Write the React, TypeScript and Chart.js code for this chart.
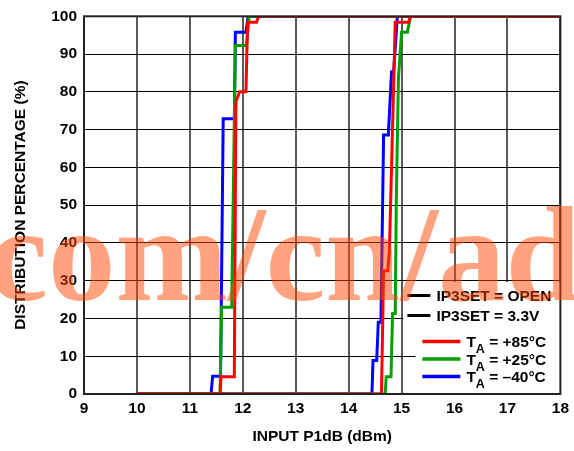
import React, { useEffect, useRef } from 'react';
import { Chart, registerables } from 'chart.js';

Chart.register(...registerables);

const xTickValues = [9, 10, 11, 12, 13, 14, 15, 16, 17, 18];
const yTickValues = [0, 10, 20, 30, 40, 50, 60, 70, 80, 90, 100];

// IP3SET = 3.3V (left cluster)
const red33X = [10, 11.57, 11.59, 11.84, 11.87, 11.94, 12.06, 12.09, 12.26, 12.3, 18];
const red33Y = [0, 0, 4.6, 4.6, 77.4, 80, 80, 98.4, 98.4, 100, 100];
const green33X = [10, 11.57, 11.6, 11.79, 11.86, 12.07, 12.12, 18];
const green33Y = [0, 0, 23, 23, 92.3, 92.3, 100, 100];
const blue33X = [10, 11.4, 11.43, 11.58, 11.63, 11.84, 11.86, 12.06, 12.1, 18];
const blue33Y = [0, 0, 4.7, 4.7, 72.9, 72.9, 95.8, 95.8, 100, 100];

// IP3SET = OPEN (right cluster)
const redOpenX = [10, 14.62, 14.66, 14.74, 14.77, 14.88, 15.13, 15.17, 18];
const redOpenY = [0, 0, 32.6, 32.6, 37.9, 98.4, 98.4, 100, 100];
const greenOpenX = [10, 14.69, 14.71, 14.8, 14.83, 14.88, 14.9, 14.94, 15.0, 15.11, 15.17, 18];
const greenOpenY = [0, 0, 4.6, 4.6, 21.3, 21.3, 51, 83.4, 95.8, 95.8, 100, 100];
const blueOpenX = [10, 14.44, 14.46, 14.53, 14.56, 14.61, 14.66, 14.75, 14.81, 14.85, 14.92, 18];
const blueOpenY = [0, 0, 8.9, 8.9, 19, 19, 68.6, 68.6, 85.3, 85.3, 100, 100];

const legendIP3 = ['IP3SET = OPEN', 'IP3SET = 3.3V'];
const legendTemps = ['+85°C', '+25°C', '–40°C'];
const watermarkText = 'com/cn/ad';

const RED = '#FF0000';
const GREEN = '#00A000';
const BLUE = '#0000FF';
const FONT = '"Liberation Sans", Arial, sans-serif';

const pts = (xs: number[], ys: number[]) => xs.map((x, i) => ({ x, y: ys[i] }));

const decor = {
  id: 'decor',
  afterDraw(chart: any) {
    const { ctx, chartArea: a } = chart;
    ctx.save();
    // legend background
    ctx.fillStyle = '#ffffff';
    ctx.fillRect(a.right - 157, a.bottom - 112, 157, 45);
    ctx.fillRect(a.right - 145, a.bottom - 67, 145, 67);

    // IP3SET entries
    ctx.lineCap = 'butt';
    ctx.textBaseline = 'alphabetic';
    ctx.textAlign = 'left';
    const ipY = [a.bottom - 98.5, a.bottom - 78.5];
    legendIP3.forEach((t, i) => {
      ctx.strokeStyle = '#000';
      ctx.lineWidth = 3;
      ctx.beginPath();
      ctx.moveTo(a.right - 153, ipY[i]);
      ctx.lineTo(a.right - 130, ipY[i]);
      ctx.stroke();
      ctx.fillStyle = '#000';
      ctx.font = `bold 15.5px ${FONT}`;
      ctx.fillText(t, a.right - 124, ipY[i] + 5.5);
    });

    // temperature entries
    const cols = [RED, GREEN, BLUE];
    const tY = [a.bottom - 52.5, a.bottom - 35, a.bottom - 17.5];
    legendTemps.forEach((t, i) => {
      ctx.strokeStyle = cols[i];
      ctx.lineWidth = 3.5;
      ctx.beginPath();
      ctx.moveTo(a.right - 138, tY[i]);
      ctx.lineTo(a.right - 100, tY[i]);
      ctx.stroke();
      ctx.fillStyle = '#000';
      let x = a.right - 94;
      const base = tY[i] + 5.7;
      ctx.font = `bold 15.5px ${FONT}`;
      ctx.fillText('T', x, base);
      x += ctx.measureText('T').width;
      ctx.font = `bold 12.5px ${FONT}`;
      ctx.fillText('A', x, base + 6);
      x += ctx.measureText('A').width;
      ctx.font = `bold 15.5px ${FONT}`;
      ctx.fillText(' = ' + t, x, base);
    });

    // plot frame
    ctx.strokeStyle = '#222';
    ctx.lineWidth = 2;
    ctx.strokeRect(a.left, a.top, a.right - a.left, a.bottom - a.top);

    // watermark
    ctx.fillStyle = 'rgba(255,70,0,0.5)';
    ctx.font = 'bold 135px "Liberation Serif", "Times New Roman", serif';
    ctx.textBaseline = 'alphabetic';
    ctx.fillText(watermarkText, -12, 300);
    ctx.restore();
  },
};

export default function App() {
  const ref = useRef<HTMLCanvasElement | null>(null);
  useEffect(() => {
    if (!ref.current) return;
    const mk = (d: { x: number; y: number }[], c: string) => ({
      data: d,
      borderColor: c,
      backgroundColor: c,
      borderWidth: 3,
      pointRadius: 0,
      tension: 0,
      fill: false,
    });
    const chart = new Chart(ref.current, {
      type: 'line',
      data: {
        datasets: [
          mk(pts(redOpenX, redOpenY), RED),
          mk(pts(red33X, red33Y), RED),
          mk(pts(greenOpenX, greenOpenY), GREEN),
          mk(pts(green33X, green33Y), GREEN),
          mk(pts(blueOpenX, blueOpenY), BLUE),
          mk(pts(blue33X, blue33Y), BLUE),
        ] as any,
      },
      options: {
        animation: false,
        responsive: false,
        layout: { padding: { left: 0, top: 14, right: 13, bottom: 0 } },
        plugins: { legend: { display: false }, tooltip: { enabled: false } },
        scales: {
          x: {
            type: 'linear',
            min: 9,
            max: 18,
            afterBuildTicks: (s: any) => {
              s.ticks = xTickValues.map((v) => ({ value: v }));
            },
            afterFit: (s: any) => {
              s.height = 57;
            },
            grid: { color: '#5a5a5a', lineWidth: 2, drawTicks: false },
            border: { display: false },
            ticks: {
              color: '#000',
              padding: 5,
              maxRotation: 0,
              font: { family: FONT, size: 15.5, weight: 'bold' },
            },
            title: {
              display: true,
              text: 'INPUT P1dB (dBm)',
              color: '#000',
              font: { family: FONT, size: 15.5, weight: 'bold' },
              padding: { top: 0, bottom: 4.7 },
            },
          },
          y: {
            type: 'linear',
            min: 0,
            max: 100,
            afterBuildTicks: (s: any) => {
              s.ticks = yTickValues.map((v) => ({ value: v }));
            },
            afterFit: (s: any) => {
              s.width = 84;
            },
            grid: { color: '#000', lineWidth: 1, drawTicks: false },
            border: { display: false },
            ticks: {
              color: '#000',
              padding: 7,
              font: { family: FONT, size: 15.5, weight: 'bold' },
            },
            title: {
              display: true,
              text: 'DISTRIBUTION PERCENTAGE (%)',
              color: '#000',
              font: { family: FONT, size: 15.5, weight: 'bold' },
              padding: { top: 11.7, bottom: 0 },
            },
          },
        },
      } as any,
      plugins: [decor],
    });
    return () => chart.destroy();
  }, []);
  return (
    <div style={{ position: 'fixed', left: 0, top: 0, width: 574, height: 451, background: '#fff' }}>
      <canvas ref={ref} width={574} height={451} style={{ width: 574, height: 451, display: 'block' }} />
    </div>
  );
}
